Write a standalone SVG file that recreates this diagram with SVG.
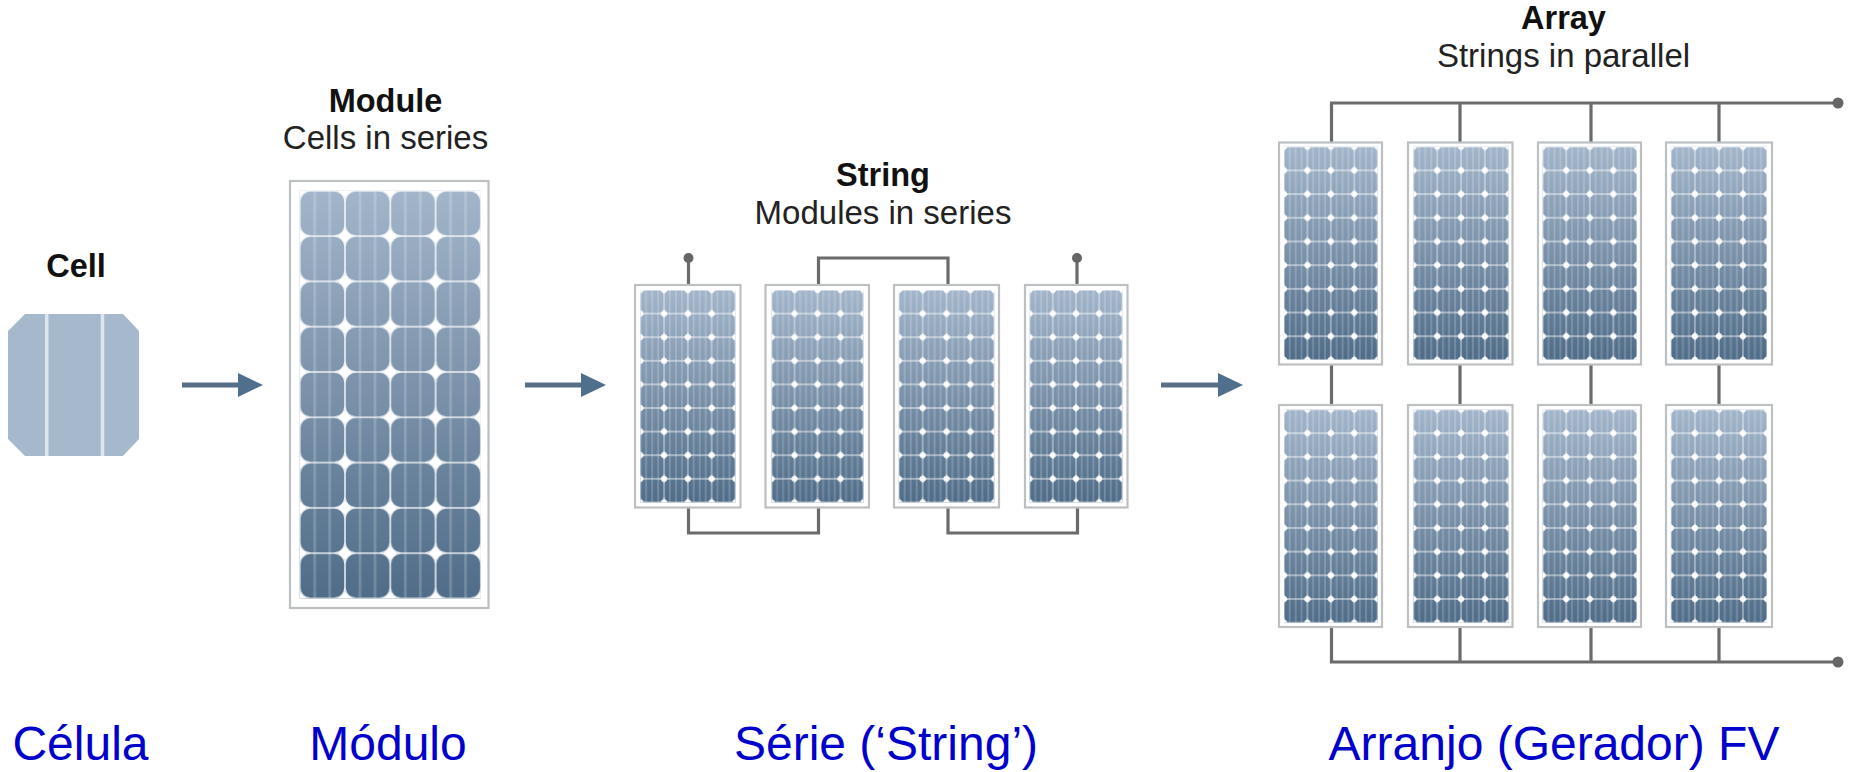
<svg xmlns="http://www.w3.org/2000/svg" width="1851" height="772" viewBox="0 0 1851 772">
<style>
text{font-family:"Liberation Sans",Arial,sans-serif;text-anchor:middle}
.h{font-size:32.5px;font-weight:700;fill:#111}
.s{font-size:33px;fill:#222}
.b{font-size:48px;fill:#0000cc}
.frame{fill:#fff;stroke:#bcc0c3;stroke-width:2.2}
.wire{fill:none;stroke:#6b6b6b;stroke-width:3.2}
.flow{fill:none;stroke:#566f86;stroke-width:5;marker-end:url(#head)}
.tip{fill:#666}
</style>
<defs>
<linearGradient id="sky" x1="0" y1="0" x2="0" y2="1">
<stop offset="0" stop-color="#a2b5ca"/>
<stop offset=".5" stop-color="#7a91a9"/>
<stop offset="1" stop-color="#4f6c88"/>
</linearGradient>
<!-- large panel tile: two fingers per cell, white diamonds where four cell corners meet -->
<pattern id="tile" patternUnits="userSpaceOnUse" width="45.3" height="45.3">
<path d="M15 0V45.3M30 0V45.3" stroke="#fff" stroke-opacity=".2" stroke-width="2.6" fill="none"/>
<path fill="#fff" fill-opacity=".85" fill-rule="evenodd" d="M0 0H45.3V45.3H0ZM10.8 .8A10 10 0 0 0 .8 10.8V34.5A10 10 0 0 0 10.8 44.5H34.5A10 10 0 0 0 44.5 34.5V10.8A10 10 0 0 0 34.5 .8Z"/>
<path fill="#fff" d="M0 0H6.5L0 6.5ZM45.3 0V6.5L38.8 0ZM45.3 45.3H38.8L45.3 38.8ZM0 45.3V38.8L6.5 45.3Z"/>
</pattern>
<!-- small panel tile: three fingers per cell, thinner gaps, round white dots at the corners -->
<pattern id="tile-s" patternUnits="userSpaceOnUse" width="45.3" height="45.3">
<path d="M11 0V45.3M22.6 0V45.3M34 0V45.3" stroke="#fff" stroke-opacity=".2" stroke-width="3.4" fill="none"/>
<path fill="#fff" fill-opacity=".85" fill-rule="evenodd" d="M0 0H45.3V45.3H0ZM9.8 .8A9 9 0 0 0 .8 9.8V35.5A9 9 0 0 0 9.8 44.5H35.5A9 9 0 0 0 44.5 35.5V9.8A9 9 0 0 0 35.5 .8Z"/>
<g fill="#fff"><circle r="5.6"/><circle cx="45.3" r="5.6"/><circle cy="45.3" r="5.6"/><circle cx="45.3" cy="45.3" r="5.6"/></g>
</pattern>
<g id="panel">
<rect width="181.2" height="407.7" fill="url(#sky)"/>
<rect width="181.2" height="407.7" fill="url(#tile)"/>
</g>
<g id="panel-s">
<rect width="181.2" height="407.7" fill="url(#sky)"/>
<rect width="181.2" height="407.7" fill="url(#tile-s)"/>
</g>
<marker id="head" markerUnits="userSpaceOnUse" markerWidth="26" markerHeight="26" refX="1" refY="12" orient="auto">
<path d="M0 0L25 12L0 24Z" fill="#4f6f8c"/>
</marker>
</defs>
<rect width="1851" height="772" fill="#fff"/>

<g id="connectors">
<path class="flow" d="M182 385H239"/>
<path class="flow" d="M525 385H582"/>
<path class="flow" d="M1161 385H1219"/>
<path class="wire" d="M688.5 285V258M818.5 285V258H948V285M1077 285V258"/>
<path class="wire" d="M688.5 507V533H818.5V507M948 507V533H1077.5V507"/>
<circle class="tip" cx="688.5" cy="258" r="5"/>
<circle class="tip" cx="1077" cy="258" r="5"/>
<path class="wire" d="M1331.5 142V103H1838M1460 142V103M1591 142V103M1719 142V103"/>
<path class="wire" d="M1331.5 364V405M1460 364V405M1591 364V405M1719 364V405"/>
<path class="wire" d="M1331.5 627V662H1838M1460 627V662M1591 627V662M1719 627V662"/>
<circle class="tip" cx="1838" cy="103" r="5.5"/>
<circle class="tip" cx="1838" cy="662" r="5.5"/>
</g>

<g id="cell">
<text class="h" x="76" y="277">Cell</text>
<path d="M25 314H123L139 331V439L123 456H25L8 439V331Z" fill="#a6b9cc"/>
<path d="M46.7 314V456M102.5 314V456" stroke="#dde6ee" stroke-width="3.5"/>
<text class="b" x="80.5" y="760">Célula</text>
</g>

<g id="module">
<text class="h" x="385.5" y="112">Module</text>
<text class="s" x="385.5" y="149">Cells in series</text>
<rect class="frame" x="290" y="181" width="198.5" height="427"/>
<use href="#panel" transform="translate(299.7 190.8)"/>
<text class="b" x="388" y="760">Módulo</text>
</g>

<g id="string">
<text class="h" x="883" y="186">String</text>
<text class="s" x="883" y="224">Modules in series</text>
<g id="string-1"><rect class="frame" x="635" y="285" width="105.5" height="222.5"/><use href="#panel-s" transform="translate(640.3 290) scale(.525 .521)"/></g>
<g id="string-2"><rect class="frame" x="765.5" y="285" width="103.5" height="222.5"/><use href="#panel-s" transform="translate(771.6 290) scale(.507 .521)"/></g>
<g id="string-3"><rect class="frame" x="894" y="285" width="105" height="222.5"/><use href="#panel-s" transform="translate(898.8 290) scale(.527 .521)"/></g>
<g id="string-4"><rect class="frame" x="1025" y="285" width="102.5" height="222.5"/><use href="#panel-s" transform="translate(1029.6 290) scale(.512 .521)"/></g>
<text class="b" x="886" y="760">Série (‘String’)</text>
</g>

<g id="array">
<text class="h" x="1563.5" y="29">Array</text>
<text class="s" x="1563.5" y="67">Strings in parallel</text>
<g id="array-1"><rect class="frame" x="1279" y="142.5" width="103" height="222"/><use href="#panel-s" transform="translate(1284 146.7) scale(.517 .523)"/></g>
<g id="array-2"><rect class="frame" x="1408" y="142.5" width="104.5" height="222"/><use href="#panel-s" transform="translate(1413.4 146.7) scale(.526 .523)"/></g>
<g id="array-3"><rect class="frame" x="1538" y="142.5" width="103" height="222"/><use href="#panel-s" transform="translate(1542.7 146.7) scale(.52 .523)"/></g>
<g id="array-4"><rect class="frame" x="1666" y="142.5" width="106" height="222"/><use href="#panel-s" transform="translate(1670.9 146.7) scale(.53 .523)"/></g>
<g id="array-5"><rect class="frame" x="1279" y="405" width="103" height="222"/><use href="#panel-s" transform="translate(1284 409.5) scale(.517 .523)"/></g>
<g id="array-6"><rect class="frame" x="1408" y="405" width="104.5" height="222"/><use href="#panel-s" transform="translate(1413.4 409.5) scale(.526 .523)"/></g>
<g id="array-7"><rect class="frame" x="1538" y="405" width="103" height="222"/><use href="#panel-s" transform="translate(1542.7 409.5) scale(.52 .523)"/></g>
<g id="array-8"><rect class="frame" x="1666" y="405" width="106" height="222"/><use href="#panel-s" transform="translate(1670.9 409.5) scale(.53 .523)"/></g>
<text class="b" x="1554" y="760">Arranjo (Gerador) FV</text>
</g>
</svg>
